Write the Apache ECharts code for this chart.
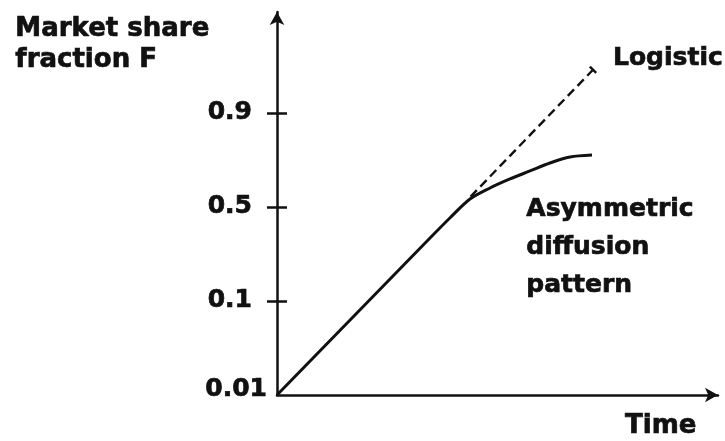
<!DOCTYPE html>
<html><head><meta charset="utf-8">
<script src="https://cdn.jsdelivr.net/npm/echarts@6/dist/echarts.min.js"></script>
<style>html,body{margin:0;padding:0;background:#fff}#c{width:725px;height:441px}</style>
</head><body><div id="c"></div>
<script>
// Y axis is a logit-like scale: tick index -> share fraction label
const tickValues = [0, 1, 2, 3];
const tickLabels = ['0.01', '0.1', '0.5', '0.9'];
// Asymmetric diffusion pattern (solid)
const timeSolid  = [0, 34.7, 39.2, 43.76, 48.3, 52.83, 57.37, 61.9, 66.44, 71.43];
const logitSolid = [0, 1.67, 1.883, 2.085, 2.202, 2.298, 2.383, 2.468, 2.532, 2.553];
// Logistic continuation (dashed)
const timeDashed  = [43.9, 71.66];
const logitDashed = [2.11, 3.46];

const INK = '#111';
const FONT = '"DejaVu Sans", sans-serif';
const lab = {};
tickValues.forEach((v, i) => lab[v] = tickLabels[i]);
const labelStyle = {color: INK, fontFamily: FONT, fontWeight: 'bold', fontSize: 25,
  textBorderColor: INK, textBorderWidth: 0.7};

const chart = echarts.init(document.getElementById('c'), null, {renderer: 'canvas'});
chart.setOption({
  animation: false,
  backgroundColor: '#fff',
  grid: {left: 277, right: 7, top: 12, bottom: 46},
  xAxis: {
    type: 'value', min: 0, max: 100,
    axisLine: {show: true, lineStyle: {color: INK, width: 2.5}, symbol: ['none', 'arrow'], symbolSize: [11, 13]},
    axisTick: {show: false}, axisLabel: {show: false}, splitLine: {show: false}
  },
  yAxis: [{
    type: 'value', min: 0, max: 4.074, position: 'left',
    axisLine: {show: true, lineStyle: {color: INK, width: 2.5}, symbol: ['none', 'arrow'], symbolSize: [11, 13]},
    axisTick: {show: true, inside: false, length: 10, customValues: [1, 2, 3], lineStyle: {color: INK, width: 2.5}},
    axisLabel: Object.assign({show: true, margin: 25, customValues: [1, 2, 3], formatter: v => lab[v] || ''}, labelStyle),
    splitLine: {show: false}
  }, {
    type: 'value', min: 0, max: 4.074, position: 'left',
    axisLine: {show: false},
    axisTick: {show: true, inside: true, length: 10, customValues: [1, 2, 3], lineStyle: {color: INK, width: 2.5}},
    axisLabel: Object.assign({show: true, margin: 10, customValues: [0], formatter: v => lab[v] || '',
      verticalAlign: 'bottom', lineHeight: 12}, labelStyle),
    splitLine: {show: false}
  }],
  series: [{
    type: 'line', name: 'Asymmetric diffusion pattern',
    data: timeSolid.map((t, i) => [t, logitSolid[i]]),
    smooth: 0.3, showSymbol: false, lineStyle: {color: INK, width: 3}
  }, {
    type: 'line', name: 'Logistic',
    data: timeDashed.map((t, i) => [t, logitDashed[i]]),
    showSymbol: false,
    lineStyle: {color: INK, width: 2.4, type: [9, 5]},
    markPoint: {symbol: 'rect', symbolSize: [9, 2.4], symbolRotate: -45, itemStyle: {color: INK},
      label: {show: false}, data: [{coord: [timeDashed[1], logitDashed[1]]}]}
  }],
  graphic: [
    {type: 'text', left: 15, top: 14, style: {text: 'Market share\nfraction F', font: 'bold 26px ' + FONT, fill: INK, stroke: INK, lineWidth: 0.7, lineHeight: 31}},
    {type: 'text', x: 613, y: 58, style: {text: 'Logistic', font: 'bold 25px ' + FONT, fill: INK, stroke: INK, lineWidth: 0.7, verticalAlign: 'middle'}},
    {type: 'text', left: 526, top: 190, style: {text: 'Asymmetric\ndiffusion\npattern', font: 'bold 25px ' + FONT, fill: INK, stroke: INK, lineWidth: 0.7, lineHeight: 38}},
    {type: 'text', x: 625, y: 426, style: {text: 'Time', font: 'bold 26px ' + FONT, fill: INK, stroke: INK, lineWidth: 0.7, verticalAlign: 'middle'}}
  ]
});
</script></body></html>
